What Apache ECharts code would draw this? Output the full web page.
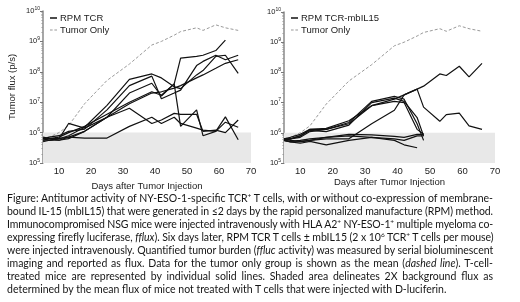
<!DOCTYPE html>
<html>
<head>
<meta charset="utf-8">
<script src="https://cdn.jsdelivr.net/npm/echarts@6/dist/echarts.min.js"></script>
<style>
    html, body { margin: 0; padding: 0; background: #fff; }
    #wrap { position: relative; width: 520px; height: 302px; overflow: hidden; }
    #chart { position: absolute; left: 0; top: 0; width: 520px; height: 302px; }
    #caption { position: absolute; left: 7px; top: 192px; width: 486px; font-family: Lato, 'Open Sans', sans-serif; font-size: 10.5px; line-height: 13px; color: #151515; }
    #caption div { white-space: nowrap; }
    #caption span.ln { display: inline-block; white-space: nowrap; }
    #caption sup { font-size: 6.5px; line-height: 0; vertical-align: 4px; }
</style>
</head>
<body>
<div id="wrap">
    <div id="chart"></div>
    <div id="caption">
        <div><span class="ln">Figure: Antitumor activity of NY-ESO-1-specific TCR<sup>+</sup> T cells, with or without co-expression of membrane-</span></div>
        <div><span class="ln">bound IL-15 (mbIL15) that were generated in ≤2 days by the rapid personalized manufacture (RPM) method.</span></div>
        <div><span class="ln">Immunocompromised NSG mice were injected intravenously with HLA A2<sup>+</sup> NY-ESO-1<sup>+</sup> multiple myeloma co-</span></div>
        <div><span class="ln">expressing firefly luciferase, <i>fflux</i>). Six days later, RPM TCR T cells ± mbIL15 (2 x 10<sup>6</sup> TCR<sup>+</sup> T cells per mouse)</span></div>
        <div><span class="ln">were injected intravenously. Quantified tumor burden (<i>ffluc</i> activity) was measured by serial bioluminescent</span></div>
        <div><span class="ln">imaging and reported as flux. Data for the tumor only group is shown as the mean (<i>dashed line</i>). T-cell-</span></div>
        <div><span class="ln">treated mice are represented by individual solid lines. Shaded area delineates 2X background flux as</span></div>
        <div><span class="ln last">determined by the mean flux of mice not treated with T cells that were injected with D-luciferin.</span></div>
    </div>
</div>
<script>
// measurement days
var days = [5, 7, 10, 13, 18, 25, 32, 39, 42, 46, 48, 53, 55, 59, 62, 66];
var xTicks = [10, 20, 30, 40, 50, 60, 70];

// tumor only mean (same on both panels)
var tumorOnly = [6.3e5, 7.1e5, 1.0e6, 1.7e6, 8.9e6, 5.2e7, 1.8e8, 7.6e8, 1.0e9, 1.6e9, 2.1e9, 2.8e9, 2.3e9, 3.5e9, 2.8e9, 2.3e9];

// RPM TCR mice
var tcrA = [7.1e5, 6.3e5, 7.1e5, 1.0e6, 1.6e6, 4.0e6, 1.0e7, 2.2e7, 1.7e7, 4.0e7, 1.6e6, 5.6e6, 7.9e5, 1.1e6, 3.3e6, 5.8e5];
var tcrB = [6.3e5, 5.6e5, 6.3e5, 2.0e6, 1.4e6, 3.2e6, 2.0e7, 4.2e7, 1.6e7, 4.0e7, 2.8e8, 3.2e8, 3.5e8, 5.0e8, 1.1e9, null];
var tcrC = [5.6e5, 6.3e5, 6.3e5, 7.9e5, 1.5e6, 7.9e6, 5.6e7, 8.5e7, 6.3e7, 3.2e7, 2.8e7, 7.9e7, 1.1e8, 3.2e8, 3.5e8, 8.9e7];
var tcrD = [6.3e5, 7.1e5, 7.9e5, 1.1e6, 1.3e6, 5.6e6, 3.5e7, 7.2e7, 1.3e7, 2.0e7, 2.5e7, 1.6e8, 2.2e8, 3.5e8, 2.5e8, 3.5e8];
var tcrE = [5.0e5, 5.6e5, 5.6e5, 7.1e5, 1.1e6, 3.2e6, 8.9e6, 2.0e7, 2.2e7, 2.9e7, 3.5e7, 6.3e7, 7.9e7, 1.3e8, 1.9e8, 2.5e8];
var tcrF = [6.3e5, 6.3e5, 5.6e5, 6.3e5, 1.1e6, 3.2e6, 6.3e6, 2.0e6, 2.6e6, 4.3e6, 4.0e6, 4.0e6, 1.1e6, 1.2e6, 1.0e6, 2.6e6];
var tcrG = [5.6e5, 5.6e5, 6.3e5, 7.1e5, 6.6e5, 6.6e5, 1.6e6, 3.2e6, 2.0e6, 3.2e6, 2.0e6, 1.4e6, 1.2e6, 1.1e6, 2.2e6, 1.5e6];

// RPM TCR-mbIL15 mice
var il15A = [5.6e5, 5.0e5, 5.0e5, 5.6e5, 6.3e5, 6.3e5, 2.0e6, 5.6e6, 1.8e7, 2.8e7, 3.5e7, 8.9e7, 7.9e7, 1.6e8, 7.1e7, 2.0e8];
var il15B = [6.3e5, 6.3e5, 7.9e5, 1.3e6, 1.3e6, 2.0e6, 7.9e6, 1.3e7, 1.8e7, 2.8e7, 7.1e6, 2.4e6, 4.0e6, 4.5e6, 1.7e6, 1.3e6];
var il15C = [6.3e5, 6.3e5, 7.1e5, 1.1e6, 1.3e6, 2.2e6, 1.1e7, 1.6e7, 1.3e7, 2.0e6, 5.6e5];
var il15D = [5.6e5, 6.3e5, 7.9e5, 1.2e6, 1.1e6, 1.8e6, 1.0e7, 1.4e7, 1.1e7, 3.2e6, 7.9e5];
var il15E = [6.3e5, 7.1e5, 8.9e5, 1.3e6, 1.4e6, 2.5e6, 7.9e6, 1.1e7, 1.0e7, 1.3e6, 8.9e5];
var il15F = [6.3e5, 5.6e5, 5.2e5, 5.6e5, 7.1e5, 8.9e5, 8.5e5, 7.6e5, 7.1e5, 8.9e5, 8.9e5];
var il15G = [5.6e5, 5.0e5, 4.5e5, 5.2e5, 4.0e5, 5.6e5, 7.1e5, 6.3e5, 5.6e5, 7.9e5, 7.9e5];
var il15H = [5.6e5, 5.2e5, 5.6e5, 6.3e5, 7.1e5, 7.9e5, 7.1e5, 5.6e5, 4.0e5, 3.2e5];

var FONT = 'Liberation Sans';
var TEXT = '#222';

// justify caption lines to the full width
var CAP_W = 486;
document.querySelectorAll('#caption span.ln').forEach(function (el) {
    var w = el.getBoundingClientRect().width;
    var txt = el.textContent;
    var extra = CAP_W - w;
    if (extra < 0) {
        el.style.letterSpacing = (extra / txt.length) + 'px';
        w = el.getBoundingClientRect().width;
        extra = CAP_W - w;
    }
    if (!el.classList.contains('last') && extra > 0) {
        var spaces = (txt.match(/ /g) || []).length;
        if (spaces) el.style.wordSpacing = (extra / spaces) + 'px';
    }
});

function pairs(vals) {
    var out = [];
    vals.forEach(function (v, i) {
        if (v != null) out.push([days[i], v]);
    });
    return out;
}

function mouseSeries(name, vals, idx) {
    return {
        name: name,
        type: 'line',
        xAxisIndex: idx,
        yAxisIndex: idx,
        data: pairs(vals),
        showSymbol: false,
        symbol: 'none',
        silent: true,
        z: 3,
        itemStyle: { color: '#111' },
        lineStyle: { color: '#111', width: 1.2 }
    };
}

function tumorSeries(idx) {
    return {
        name: 'Tumor Only',
        type: 'line',
        xAxisIndex: idx,
        yAxisIndex: idx,
        data: pairs(tumorOnly),
        showSymbol: false,
        symbol: 'none',
        silent: true,
        z: 2,
        itemStyle: { color: '#9a9a9a' },
        lineStyle: { color: '#9a9a9a', width: 1, type: [3, 2] }
    };
}

function shadeSeries(idx) {
    return {
        name: 'shade',
        type: 'line',
        xAxisIndex: idx,
        yAxisIndex: idx,
        data: [[5, 1e5]],
        symbol: 'none',
        lineStyle: { opacity: 0 },
        silent: true,
        z: 1,
        markArea: {
            silent: true,
            itemStyle: { color: '#e8e8e8' },
            data: [[{ xAxis: 5, yAxis: 1e5 }, { xAxis: 70, yAxis: 1e6 }]]
        }
    };
}

function xAxis(idx) {
    return {
        type: 'value',
        gridIndex: idx,
        min: 5,
        max: 70,
        axisLine: { show: false },
        axisTick: { show: false },
        splitLine: { show: false },
        axisLabel: { customValues: xTicks, color: TEXT, fontFamily: FONT, fontSize: 9.5, margin: 3 },
        name: 'Days after Tumor Injection',
        nameLocation: 'middle',
        nameGap: 14,
        nameTextStyle: { color: TEXT, fontFamily: FONT, fontSize: 9.5 }
    };
}

function yAxis(idx, withName) {
    return {
        type: 'log',
        logBase: 10,
        gridIndex: idx,
        min: 1e5,
        max: 1e10,
        axisLine: { show: true, lineStyle: { color: '#8a8a8a', width: 1.5 } },
        axisTick: { show: true, length: 3, lineStyle: { color: '#777' } },
        minorTick: { show: true, splitNumber: 9, length: 1.5, lineStyle: { color: '#999' } },
        splitLine: { show: false },
        axisLabel: {
            margin: 3,
            color: TEXT,
            fontFamily: FONT,
            fontSize: 7.5,
            lineHeight: 10,
            formatter: function (v) {
                return '10{s|' + Math.round(Math.log10(v)) + '}';
            },
            rich: {
                s: { fontSize: 5, fontFamily: FONT, color: TEXT, verticalAlign: 'top', lineHeight: 10 }
            }
        },
        name: withName ? 'Tumor flux (p/s)' : '',
        nameLocation: 'middle',
        nameRotate: 90,
        nameGap: 26,
        nameTextStyle: { color: TEXT, fontFamily: FONT, fontSize: 9.5 }
    };
}

function legend(left, mouseName) {
    return {
        left: left,
        top: 8,
        orient: 'vertical',
        itemWidth: 7,
        itemHeight: 1.5,
        itemGap: 2,
        selectedMode: false,
        textStyle: { color: TEXT, fontFamily: FONT, fontSize: 9.5, lineHeight: 10, padding: [0, 0, 0, -2] },
        data: [
            { name: mouseName, icon: 'rect' },
            { name: 'Tumor Only', icon: 'path://M0,0h3v1h-3zM5,0h3v1h-3z' }
        ]
    };
}

var series = [shadeSeries(0), tumorSeries(0)];
[tcrA, tcrB, tcrC, tcrD, tcrE, tcrF, tcrG].forEach(function (v) {
    series.push(mouseSeries('RPM TCR', v, 0));
});
series.push(shadeSeries(1), tumorSeries(1));
[il15A, il15B, il15C, il15D, il15E, il15F, il15G, il15H].forEach(function (v) {
    series.push(mouseSeries('RPM TCR-mbIL15', v, 1));
});

var chart = echarts.init(document.getElementById('chart'), null, { renderer: 'canvas' });
chart.setOption({
    animation: false,
    backgroundColor: '#fff',
    grid: [
        { left: 43, right: 269, top: 11, bottom: 139 },
        { left: 284, right: 25, top: 12, bottom: 139 }
    ],
    xAxis: [xAxis(0), xAxis(1)],
    yAxis: [yAxis(0, true), yAxis(1, false)],
    legend: [legend(45, 'RPM TCR'), legend(286, 'RPM TCR-mbIL15')],
    series: series
});
</script>
</body>
</html>
